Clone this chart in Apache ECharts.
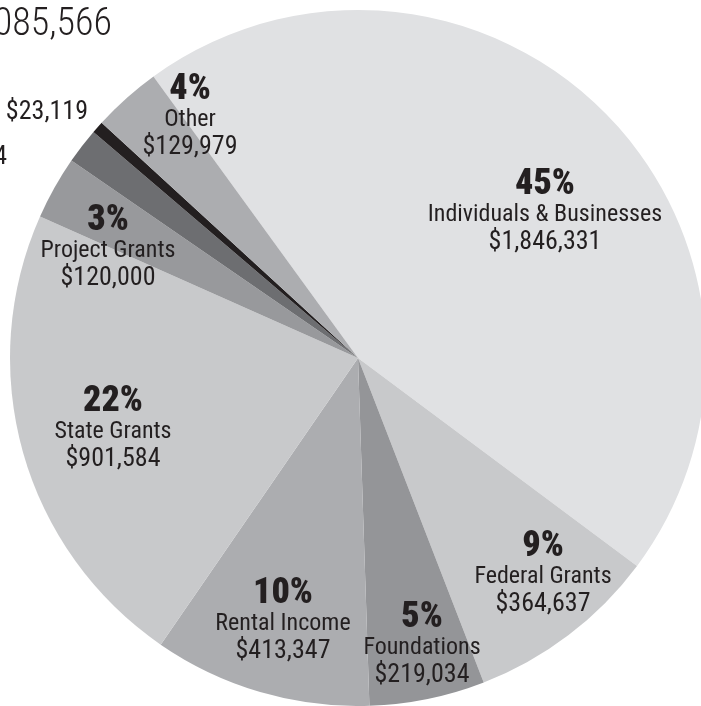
<!DOCTYPE html>
<html>
<head>
<meta charset="utf-8">
<script src="https://cdn.jsdelivr.net/npm/echarts@6/dist/echarts.min.js"></script>
<style>
  html, body { margin: 0; padding: 0; background: #fff; }
  #chart { width: 701px; height: 706px; }
</style>
</head>
<body>
<div id="chart"></div>
<script>
// revenue sources, clockwise from the top-left
const names = ['Individuals & Businesses', 'Federal Grants', 'Foundations', 'Rental Income',
  'State Grants', 'Project Grants', 'Investments', 'Special Events', 'Other'];
const values = [1846331, 364637, 219034, 413347, 901584, 120000, 67534, 23119, 129979];
const percents = ['45%', '9%', '5%', '10%', '22%', '3%', '2%', '1%', '4%'];
const total = '$4,085,566';

// slice fills
const colors = ['#e0e1e3', '#c8c9cb', '#949598', '#acadb0', '#c8c9cb', '#98999c', '#6d6e71', '#231f20', '#acadb0'];
// where each label sits (middle line), small slices put theirs outside
const labelPos = [[545, 215], [543, 577], [422, 648], [283, 624], [113, 432], [108, 251], [7, 157], [88, 112], [190, 120]];
const outside = [6, 7];

const font = '"Roboto Condensed", "Liberation Sans Narrow", Roboto, sans-serif';

function money(v) {
  return '$' + v.toLocaleString('en-US');
}

const chart = echarts.init(document.getElementById('chart'));

let option = {
  animation: false,
  graphic: [{
    type: 'text',
    x: 112,
    y: 25,
    style: {
      text: total,
      font: '300 38px ' + font,
      fill: '#231f20',
      textAlign: 'right',
      textVerticalAlign: 'middle'
    }
  }],
  series: [{
    type: 'pie',
    center: [358, 358],
    radius: [0, 348],
    startAngle: 126,
    clockwise: true,
    avoidLabelOverlap: false,
    itemStyle: { borderWidth: 0 },
    label: {
      show: true,
      position: 'inside',
      color: '#231f20',
      fontFamily: font,
      formatter: p => {
        if (outside.indexOf(p.dataIndex) >= 0) {
          return '{v|' + money(p.value) + '}';
        }
        return '{p|' + percents[p.dataIndex] + '}\n{n|' + p.name + '}\n{v|' + money(p.value) + '}';
      },
      rich: {
        p: { fontFamily: font, fontSize: 36, fontWeight: 900, lineHeight: 31, color: '#231f20' },
        n: { fontFamily: font, fontSize: 24, lineHeight: 28, color: '#231f20' },
        v: { fontFamily: font, fontSize: 26, lineHeight: 28, color: '#231f20' }
      }
    },
    labelLine: { show: false },
    labelLayout: params => {
      const pos = labelPos[params.dataIndex];
      const out = outside.indexOf(params.dataIndex) >= 0;
      return {
        x: pos[0],
        y: out ? pos[1] : pos[1] - 2,
        align: out ? 'right' : 'center',
        verticalAlign: 'middle'
      };
    },
    emphasis: { disabled: true },
    data: names.map((n, i) => ({
      name: n,
      value: values[i],
      itemStyle: { color: colors[i] }
    }))
  }]
};

chart.setOption(option);
</script>
</body>
</html>
